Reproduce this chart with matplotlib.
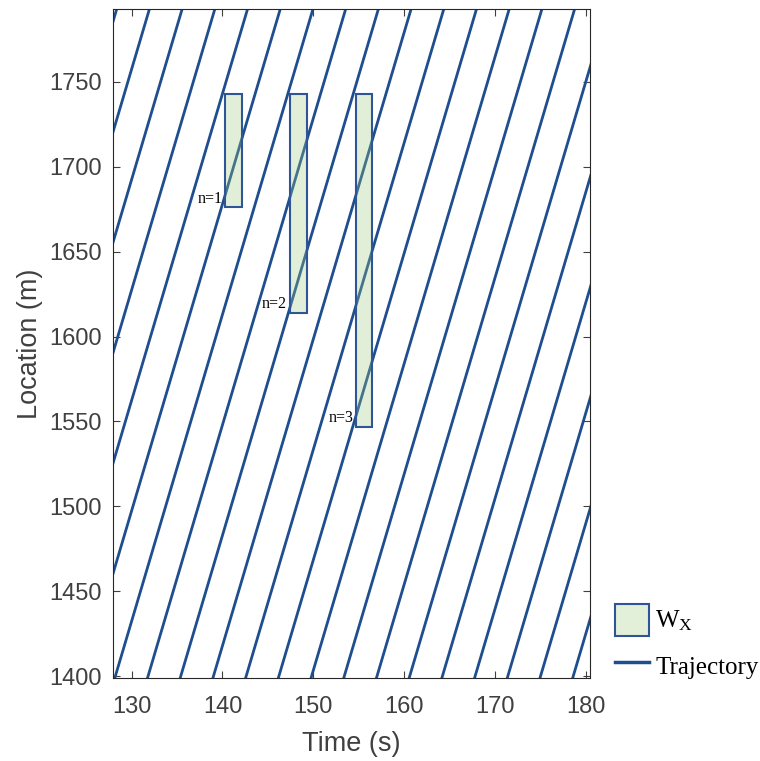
import matplotlib.pyplot as plt
from matplotlib.patches import Rectangle, Patch
from matplotlib.lines import Line2D

# trajectories: time each vehicle passes 1400 m, common speed
traj_t_1400 = [106.6, 110.2, 113.8, 117.4, 121.0, 124.6, 128.2, 131.8, 135.4,
               139.0, 142.6, 146.2, 149.8, 153.4, 157.0, 160.6, 164.2, 167.8,
               171.4, 175.0, 178.6]
speed = 18.05  # m/s

# W_X windows
box_t0 = [140.3, 147.4, 154.7]
box_t1 = [142.1, 149.25, 156.5]
box_top = [1743, 1743, 1743]
box_bottom = [1676, 1614, 1547]
box_labels = ["n=1", "n=2", "n=3"]

x_ticks = [130, 140, 150, 160, 170, 180]
y_ticks = [1400, 1450, 1500, 1550, 1600, 1650, 1700, 1750]

LINE_C = "#1f4e8f"
EDGE_C = "#2f5597"
FILL_C = (158 / 255, 205 / 255, 128 / 255, 0.3)
TXT_C = "#404040"

plt.rcParams["font.family"] = ["Liberation Sans", "DejaVu Sans"]
plt.rcParams["mathtext.fontset"] = "stix"

fig = plt.figure(figsize=(7.6, 7.61), dpi=100)
ax = fig.add_axes([0.1487, 0.109, 0.6276, 0.8788])

y0, y1 = 1350, 1850
for t in traj_t_1400:
    ta = t + (y0 - 1400) / speed
    tb = t + (y1 - 1400) / speed
    ax.plot([ta, tb], [y0, y1], color=LINE_C, lw=2.0, zorder=2)

for a, b, top, bot, lab in zip(box_t0, box_t1, box_top, box_bottom, box_labels):
    ax.add_patch(Rectangle((a, bot), b - a, top - bot, facecolor=FILL_C,
                           edgecolor="none", zorder=3))
    ax.add_patch(Rectangle((a, bot), b - a, top - bot, facecolor="none",
                           edgecolor=EDGE_C, lw=1.5, zorder=4))
    ax.text(a - 0.3, bot + 5, lab, ha="right", va="center", fontsize=11.5,
            family="Liberation Serif", color="black", zorder=5)

ax.set_xlim(127.95, 180.45)
ax.set_ylim(1399, 1792.6)
ax.set_xticks(x_ticks)
ax.set_yticks(y_ticks)
ax.tick_params(direction="in", length=5, width=0.8, top=True, right=True,
               labelsize=17, colors=TXT_C)
ax.tick_params(axis="y", pad=8)
ax.tick_params(axis="x", pad=13)
for s in ax.spines.values():
    s.set_color("#262626")
    s.set_linewidth(0.8)
ax.set_xlabel("Time (s)", fontsize=19.5, color=TXT_C, labelpad=9)
ax.set_ylabel("Location (m)", fontsize=19.5, color=TXT_C, labelpad=4.5)

handles = [Patch(facecolor="#e2f0d9", edgecolor=EDGE_C, lw=1.5),
           Line2D([], [], color=LINE_C, lw=2.5)]
fig.legend(handles, [r"W$_\mathregular{X}$", "Trajectory"],
           loc="lower left", bbox_to_anchor=(0.793, 0.088), frameon=False,
           handlelength=1.36, handleheight=1.6, handletextpad=0.25,
           labelspacing=0.55, borderpad=0,
           prop={"family": "Liberation Serif", "size": 18})

fig.savefig("out.png", dpi=100)
